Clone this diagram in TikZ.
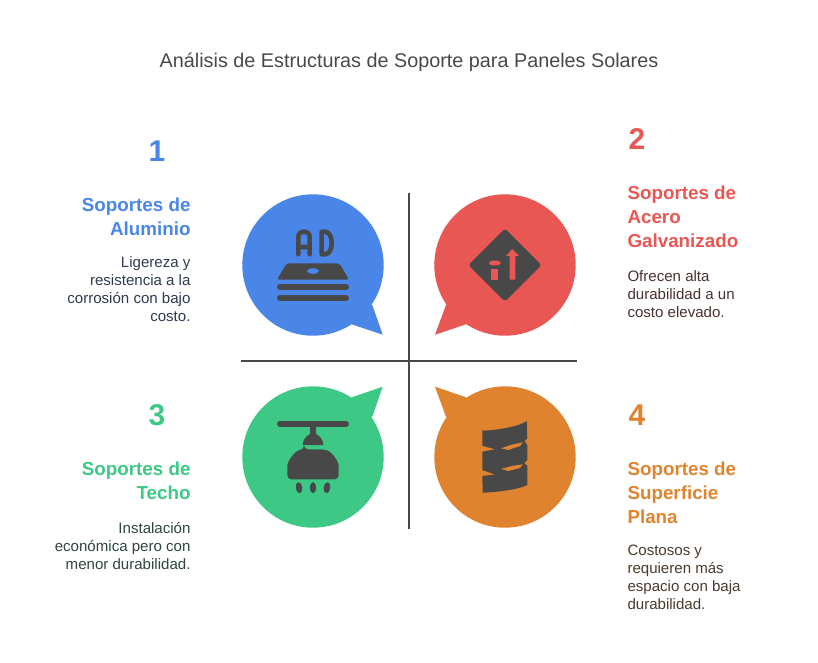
\documentclass[tikz,border=0pt]{standalone}
\usepackage{fontspec}
\setmainfont{Liberation Sans}

\definecolor{bluefill}{HTML}{4A86E8}
\definecolor{redfill}{HTML}{E85754}
\definecolor{greenfill}{HTML}{3DC985}
\definecolor{orangefill}{HTML}{E0832E}
\definecolor{iconfill}{HTML}{484848}
\definecolor{bluetext}{HTML}{2E3A50}
\definecolor{redtext}{HTML}{4A3030}
\definecolor{greentext}{HTML}{2E463C}
\definecolor{orangetext}{HTML}{4A3A2C}

\tikzset{every picture/.style={line width=0.75pt}}
\tikzset{
  numtext/.style={inner sep=0pt,font=\fontsize{22.5}{27}\selectfont\bfseries},
  headtext/.style={inner sep=0pt,font=\fontsize{14.1}{18}\selectfont\bfseries},
  bodytext/.style={inner sep=0pt,font=\fontsize{11.3}{13.5}\selectfont},
  iconline/.style={draw=iconfill,line width=3.4pt,line cap=round,line join=round},
}

\begin{document}
\begin{tikzpicture}[x=0.75pt,y=0.75pt,yscale=-1,xscale=1]
        \useasboundingbox (0,0) rectangle (818,662);

        %Shape: Circle and tail, blue
        \fill [bluefill] (313,265) circle (70.7);
        \fill [bluefill] (372.3,305) -- (382.7,334.7) -- (351.7,324.3) -- (340,300) -- cycle ;
        %Shape: Circle and tail, red
        \fill [redfill] (505,265) circle (70.7);
        \fill [redfill] (446,305) -- (435,334.7) -- (466,324.3) -- (478,300) -- cycle ;
        %Shape: Circle and tail, green
        \fill [greenfill] (313,457) circle (70.7);
        \fill [greenfill] (372.3,416.7) -- (382.7,386.7) -- (351.7,397.3) -- (340,420) -- cycle ;
        %Shape: Circle and tail, orange
        \fill [orangefill] (505,457) circle (70.7);
        \fill [orangefill] (446,416.7) -- (435,386.7) -- (466,397.3) -- (478,420) -- cycle ;

        %Straight Lines
        \draw [iconfill,line width=1.5pt] (409,193) -- (409,529) ;
        %Straight Lines
        \draw [iconfill,line width=1.5pt] (241,361) -- (577,361) ;

        %Icon: letters and plate
        \draw [iconline] (298.3,254.3) -- (298.3,237) .. controls (298.3,229.7) and (309.7,229.7) .. (309.7,237) -- (309.7,254.3) (298.3,247) -- (309.7,247) ;
        \draw [iconline] (321.7,231.7) -- (325,231.7) .. controls (334,231.7) and (334,254.3) .. (325,254.3) -- (321.7,254.3) -- cycle ;
        \fill [iconfill,rounded corners=1.5] (286.7,263.3) -- (339.3,263.3) -- (349,279.5) -- (277,279.5) -- cycle ;
        \fill [bluefill] (313,271) ellipse (6 and 2.8);
        \draw [iconfill,line width=4.5pt,line cap=round] (280,287.3) -- (346,287.3) ;
        \draw [iconfill,line width=4.5pt,line cap=round] (280,298) -- (346,298) ;

        %Icon: diamond with arrow
        \fill [iconfill,rounded corners=2] (505,228.5) -- (541.5,265) -- (505,301.5) -- (468.5,265) -- cycle ;
        \fill [redfill] (509.5,279.5) -- (509.5,256) -- (506,256) -- (512.3,249) -- (519,256) -- (515.3,256) -- (515.3,279.5) -- cycle ;
        \fill [redfill] (491,268.7) rectangle (497.7,279.5) ;
        \fill [redfill] (494.8,263) ellipse (6 and 2.5);

        %Icon: lamp
        \draw [iconfill,line width=4.5pt,line cap=round] (280,423.7) -- (346,423.7) ;
        \fill [iconfill] (310,423.7) -- (316,423.7) -- (316,434) .. controls (320,436) and (323.3,440) .. (323.3,445) -- (302.7,445) .. controls (302.7,440) and (306,436) .. (310,434) -- cycle ;
        \fill [iconfill,rounded corners=3] (304,449.3) -- (322,449.3) .. controls (332,451) and (338.7,462) .. (338.7,470) -- (338.7,479.3) -- (287.3,479.3) -- (287.3,470) .. controls (287.3,462) and (294,451) .. (304,449.3) -- cycle ;
        \fill [iconfill,rotate around={-8:(299,487.7)}] (299,487.7) ellipse (3.3 and 5.5);
        \fill [iconfill] (313,487.7) ellipse (3.2 and 5.5);
        \fill [iconfill,rotate around={8:(327,487.7)}] (327,487.7) ellipse (3.3 and 5.5);

        %Icon: spring
        \fill [iconfill] (482.3,430.7) .. controls (500,430) and (520,426) .. (526.7,421) -- (527.3,438.3) -- (524.5,441) -- (527.3,445) -- (527.3,460) -- (524.5,463) -- (527.3,466) -- (527.3,485) .. controls (520,489) and (500,492) .. (482.7,492.7) -- (482.3,476) -- (495,474.5) -- (482.3,470) -- (482.3,451.7) -- (495,449.3) -- (482.3,445.7) -- cycle ;
        \fill [orangefill] (501,448.3) -- (511.7,444.7) -- (522.7,442.3) -- (520,446) -- (508.3,450) -- cycle ;
        \fill [orangefill] (501,469) -- (511.7,466) -- (522.7,464.3) -- (520,468) -- (508.3,471) -- cycle ;

        % Text Node
        \draw (409,62.5) node (titleText) [text=iconfill,inner sep=0pt,font=\fontsize{14.85}{18}\selectfont] {Análisis de Estructuras de Soporte para Paneles Solares};

        % Text Node
        \draw (157,161) node (numOne) [anchor=base,numtext,text=bluefill] {1};
        % Text Node
        \draw (191,197) node (headOne) [anchor=north east,align=right,headtext,text=bluefill] {Soportes de\\Aluminio};
        % Text Node
        \draw (191,256) node (bodyOne) [anchor=north east,align=right,bodytext,text=bluetext] {Ligereza y\\resistencia a la\\corrosión con bajo\\costo.};

        % Text Node
        \draw (637,149) node (numTwo) [anchor=base,numtext,text=redfill] {2};
        % Text Node
        \draw (627,185) node (headTwo) [anchor=north west,align=left,headtext,text=redfill] {Soportes de\\Acero\\Galvanizado};
        % Text Node
        \draw (627,270) node (bodyTwo) [anchor=north west,align=left,bodytext,text=redtext] {Ofrecen alta\\durabilidad a un\\costo elevado.};

        % Text Node
        \draw (157,425) node (numThree) [anchor=base,numtext,text=greenfill] {3};
        % Text Node
        \draw (191,461) node (headThree) [anchor=north east,align=right,headtext,text=greenfill] {Soportes de\\Techo};
        % Text Node
        \draw (191,522) node (bodyThree) [anchor=north east,align=right,bodytext,text=greentext] {Instalación\\económica pero con\\menor durabilidad.};

        % Text Node
        \draw (637,425) node (numFour) [anchor=base,numtext,text=orangefill] {4};
        % Text Node
        \draw (627,461) node (headFour) [anchor=north west,align=left,headtext,text=orangefill] {Soportes de\\Superficie\\Plana};
        % Text Node
        \draw (627,544) node (bodyFour) [anchor=north west,align=left,bodytext,text=orangetext] {Costosos y\\requieren más\\espacio con baja\\durabilidad.};

    \end{tikzpicture}
\end{document}
